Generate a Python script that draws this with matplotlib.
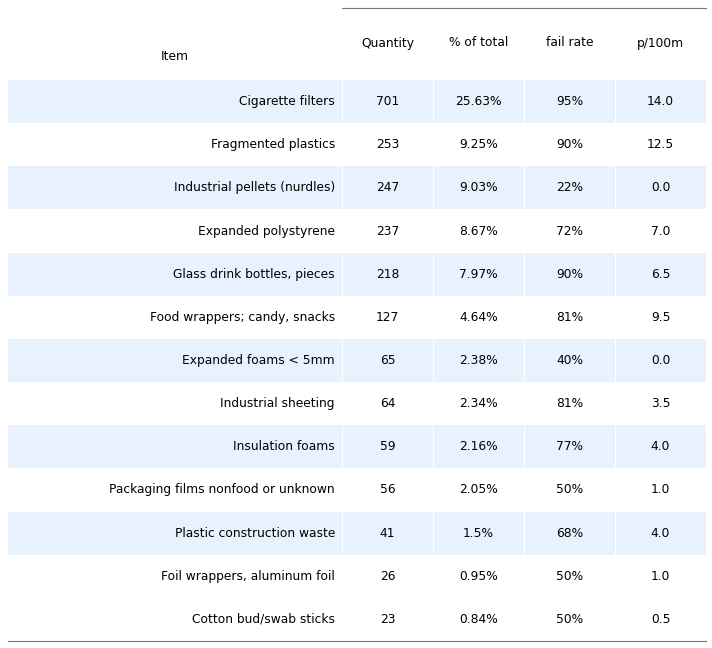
import matplotlib
matplotlib.use("Agg")
import matplotlib.pyplot as plt
from matplotlib.patches import Rectangle

items = ["Cigarette filters", "Fragmented plastics", "Industrial pellets (nurdles)",
         "Expanded polystyrene", "Glass drink bottles, pieces", "Food wrappers; candy, snacks",
         "Expanded foams < 5mm", "Industrial sheeting", "Insulation foams",
         "Packaging films nonfood or unknown", "Plastic construction waste",
         "Foil wrappers, aluminum foil", "Cotton bud/swab sticks"]
quantity = [701, 253, 247, 237, 218, 127, 65, 64, 59, 56, 41, 26, 23]
pct_total = ["25.63%", "9.25%", "9.03%", "8.67%", "7.97%", "4.64%", "2.38%",
             "2.34%", "2.16%", "2.05%", "1.5%", "0.95%", "0.84%"]
fail_rate = ["95%", "90%", "22%", "72%", "90%", "81%", "40%", "81%", "77%",
             "50%", "68%", "50%", "50%"]
p100m = ["14.0", "12.5", "0.0", "7.0", "6.5", "9.5", "0.0", "3.5", "4.0",
         "1.0", "4.0", "1.0", "0.5"]
headers = ["Quantity", "% of total", "fail rate", "p/100m"]

W, H = 712, 648
fig = plt.figure(figsize=(W / 100, H / 100), dpi=100)
ax = fig.add_axes([0, 0, 1, 1])
ax.set_xlim(0, W)
ax.set_ylim(H, 0)
ax.set_axis_off()

left, item_right, right = 8, 342, 706
col_w = (right - item_right) / 4
top, head_bottom, bottom = 8, 80, 641
row_h = (bottom - head_bottom) / len(items)
fs = 8.8

# header
ax.plot([item_right, right], [top, top], color="#777777", lw=0.8)
ax.text(175, 56, "Item", ha="center", va="center", fontsize=fs)
for j, h in enumerate(headers):
    ax.text(item_right + col_w * (j + 0.5), 43, h, ha="center", va="center", fontsize=fs)

for i, name in enumerate(items):
    y0 = head_bottom + i * row_h
    yc = y0 + row_h / 2
    # stripes on even rows, last row left white as in the source
    if i % 2 == 0 and i < len(items) - 1:
        ax.add_patch(Rectangle((left, y0), item_right - left, row_h, color="#e8f2fe", lw=0))
        for j in range(4):
            ax.add_patch(Rectangle((item_right + j * col_w + 1, y0), col_w - 1, row_h,
                                   color="#e8f2fe", lw=0))
    ax.text(item_right - 7, yc, name, ha="right", va="center", fontsize=fs)
    vals = [str(quantity[i]), pct_total[i], fail_rate[i], p100m[i]]
    for j, v in enumerate(vals):
        ax.text(item_right + col_w * (j + 0.5), yc, v, ha="center", va="center", fontsize=fs)

ax.plot([left, right], [bottom, bottom], color="#777777", lw=0.8)

fig.savefig("out.png", dpi=100)
